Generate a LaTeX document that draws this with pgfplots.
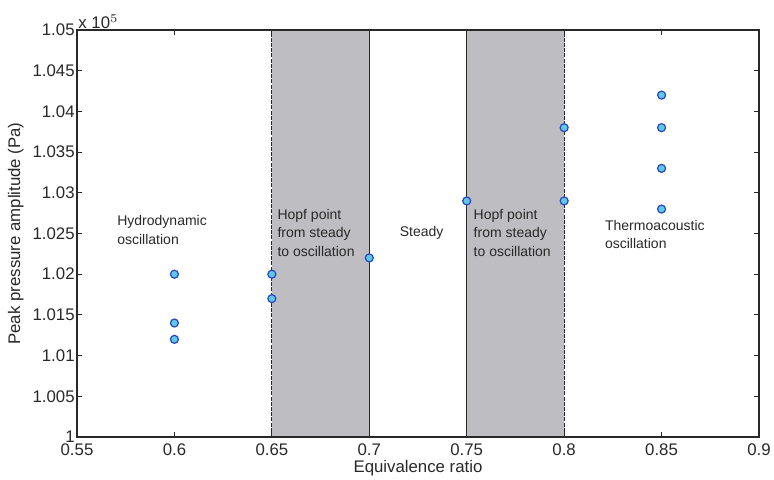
\documentclass[border=0pt]{standalone}
\usepackage{fontspec}
\setmainfont{Liberation Sans}
\usepackage{pgfplots}
\pgfplotsset{compat=1.18}
\definecolor{shade}{RGB}{190,190,194}
\definecolor{mfill}{RGB}{95,200,230}
\definecolor{medge}{RGB}{40,70,190}
\definecolor{txt}{RGB}{40,40,40}

\begin{document}
\begin{tikzpicture}
\begin{axis}[
  name=ax,
  scale only axis,
  width=341pt, height=203.5pt,
  xmin=0.55, xmax=0.9,
  ymin=1, ymax=1.05,
  xtick={0.55,0.6,0.65,0.7,0.75,0.8,0.85,0.9},
  xticklabels={0.55,0.6,0.65,0.7,0.75,0.8,0.85,0.9},
  ytick={1,1.005,1.01,1.015,1.02,1.025,1.03,1.035,1.04,1.045,1.05},
  yticklabels={1,1.005,1.01,1.015,1.02,1.025,1.03,1.035,1.04,1.045,1.05},
  tick align=inside,
  major tick length=2.5pt,
  tick style={txt, line width=0.4pt},
  axis line style={txt, line width=0.6pt},
  axis on top,
  ticklabel style={font=\fontsize{8.4}{10}\selectfont, text=txt},
  xticklabel style={inner sep=1pt, yshift=-2pt},
  yticklabel style={inner sep=1pt},
  label style={font=\fontsize{8.4}{10}\selectfont, text=txt},
  xlabel={Equivalence ratio},
  ylabel={Peak pressure amplitude (Pa)},
  xlabel style={at={(axis description cs:0.5,0)}, anchor=center, yshift=-15.5pt},
  ylabel style={yshift=0pt},
  /pgf/number format/assume math mode=true,
]

% shaded Hopf regions
\addplot[draw=none, fill=shade] coordinates {(0.65,1) (0.7,1) (0.7,1.05) (0.65,1.05)} -- cycle;
\addplot[draw=none, fill=shade] coordinates {(0.75,1) (0.8,1) (0.8,1.05) (0.75,1.05)} -- cycle;
\addplot[txt, line width=0.4pt, dash pattern=on 2pt off 0.6pt] coordinates {(0.65,1) (0.65,1.05)};
\addplot[txt, line width=0.4pt] coordinates {(0.7,1) (0.7,1.05)};
\addplot[txt, line width=0.4pt] coordinates {(0.75,1) (0.75,1.05)};
\addplot[txt, line width=0.4pt, dash pattern=on 2pt off 0.6pt] coordinates {(0.8,1) (0.8,1.05)};

% measured peak amplitudes (x 10^5 Pa)
\addplot[only marks, mark=*, mark size=2pt,
  mark options={fill=mfill, draw=medge, line width=0.6pt}]
coordinates {
  (0.6,1.020) (0.6,1.014) (0.6,1.012)
  (0.65,1.020) (0.65,1.017)
  (0.7,1.022)
  (0.75,1.029)
  (0.8,1.029) (0.8,1.038)
  (0.85,1.042) (0.85,1.038) (0.85,1.033) (0.85,1.028)
};

\begin{scope}[every node/.style={anchor=west, align=left, inner sep=0pt,
  font=\fontsize{7}{9.25}\selectfont, text=txt}]
\node at (axis cs:0.5705,1.0254) {Hydrodynamic\\oscillation};
\node at (axis cs:0.6527,1.0251) {Hopf point\\from steady\\to oscillation};
\node at (axis cs:0.7155,1.0251) {Steady};
\node at (axis cs:0.7534,1.0251) {Hopf point\\from steady\\to oscillation};
\node at (axis cs:0.8208,1.0249) {Thermoacoustic\\oscillation};
\end{scope}

\end{axis}
\node[anchor=south west, inner sep=0.5pt, font=\fontsize{8.4}{10}\selectfont, text=txt]
  at (ax.north west) {x 10$^{5}$};
\pgfresetboundingbox
\path[use as bounding box] (ax.south west) ++(-38.5pt,-21.5pt) rectangle ([shift={(7.5pt,15pt)}]ax.north east);
\end{tikzpicture}
\end{document}
